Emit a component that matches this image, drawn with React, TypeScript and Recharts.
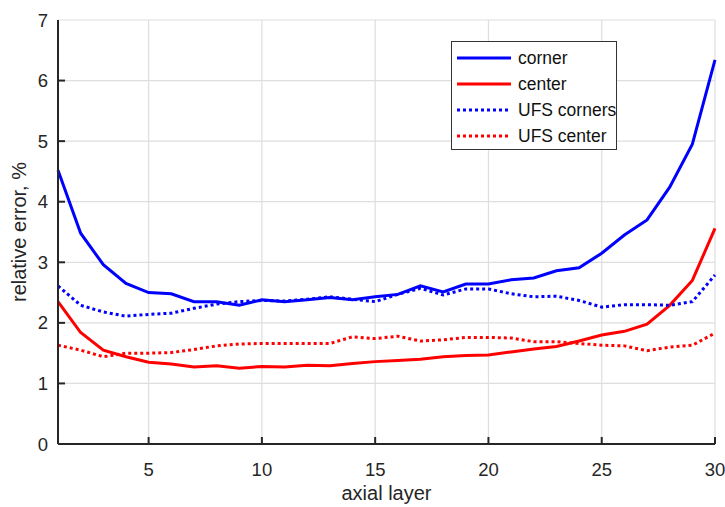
import React from 'react';
import { LineChart, Line, XAxis, YAxis, CartesianGrid, Legend, Label } from 'recharts';

const layers = [1, 2, 3, 4, 5, 6, 7, 8, 9, 10, 11, 12, 13, 14, 15, 16, 17, 18, 19, 20, 21, 22, 23, 24, 25, 26, 27, 28, 29, 30];
const corner = [4.52, 3.48, 2.96, 2.65, 2.5, 2.48, 2.35, 2.35, 2.29, 2.38, 2.35, 2.38, 2.42, 2.38, 2.43, 2.47, 2.61, 2.51, 2.64, 2.64, 2.71, 2.74, 2.86, 2.91, 3.15, 3.45, 3.7, 4.24, 4.95, 6.34];
const center = [2.35, 1.84, 1.55, 1.44, 1.35, 1.32, 1.27, 1.29, 1.25, 1.28, 1.27, 1.3, 1.29, 1.33, 1.36, 1.38, 1.4, 1.44, 1.46, 1.47, 1.52, 1.57, 1.61, 1.7, 1.8, 1.86, 1.98, 2.29, 2.7, 3.56];
const ufsCorners = [2.61, 2.29, 2.18, 2.11, 2.14, 2.16, 2.24, 2.31, 2.35, 2.37, 2.36, 2.39, 2.43, 2.39, 2.35, 2.47, 2.57, 2.46, 2.56, 2.56, 2.48, 2.43, 2.44, 2.37, 2.26, 2.3, 2.3, 2.29, 2.35, 2.79];
const ufsCenter = [1.63, 1.55, 1.44, 1.5, 1.5, 1.51, 1.56, 1.62, 1.65, 1.66, 1.66, 1.66, 1.66, 1.77, 1.74, 1.78, 1.7, 1.72, 1.76, 1.76, 1.75, 1.69, 1.69, 1.66, 1.63, 1.62, 1.54, 1.6, 1.63, 1.83];

const xTicks = [5, 10, 15, 20, 25, 30];
const yTicks = [0, 1, 2, 3, 4, 5, 6, 7];
const seriesNames = ['corner', 'center', 'UFS corners', 'UFS center'];
const xLabel = 'axial layer';
const yLabel = 'relative error, %';

const data = layers.map((l, i) => ({
  layer: l,
  corner: corner[i],
  center: center[i],
  ufsCorners: ufsCorners[i],
  ufsCenter: ufsCenter[i],
}));

const series = [
  { key: 'corner', name: seriesNames[0], color: '#0000ff', dash: undefined as string | undefined },
  { key: 'center', name: seriesNames[1], color: '#ff0000', dash: undefined as string | undefined },
  { key: 'ufsCorners', name: seriesNames[2], color: '#0000ff', dash: '3 3' },
  { key: 'ufsCenter', name: seriesNames[3], color: '#ff0000', dash: '3 3' },
];

const FONT = "'Liberation Sans', Arial, Helvetica, sans-serif";
const AXIS = '#262626';
const TICK = 7;

const BottomTick = (p: any) => (
  <g>
    <line x1={p.x} y1={p.y} x2={p.x} y2={p.y - TICK} stroke={AXIS} strokeWidth={2} />
    <text x={p.x} y={p.y + 32} textAnchor="middle" fontSize={18.5} fill={AXIS} fontFamily={FONT}>
      {p.payload.value}
    </text>
  </g>
);
const TopTick = (p: any) => (
  <line x1={p.x} y1={p.y} x2={p.x} y2={p.y + TICK} stroke={AXIS} strokeWidth={2} />
);
const LeftTick = (p: any) => (
  <g>
    {p.payload.value !== 0 && p.payload.value !== 7 && (
      <line x1={p.x} y1={p.y} x2={p.x + TICK} y2={p.y} stroke={AXIS} strokeWidth={2} />
    )}
    <text x={p.x - 10} y={p.y + 6.5} textAnchor="end" fontSize={18.5} fill={AXIS} fontFamily={FONT}>
      {p.payload.value}
    </text>
  </g>
);
const RightTick = (p: any) => (
  <line x1={p.x} y1={p.y} x2={p.x - TICK} y2={p.y} stroke={AXIS} strokeWidth={2} />
);

const LegendBox = () => (
  <div
    style={{
      boxSizing: 'border-box',
      width: 166,
      height: 109,
      border: '1.5px solid #333',
      background: '#fff',
      position: 'relative',
      fontFamily: FONT,
      fontSize: 17.5,
      color: '#111',
    }}
  >
    {series.map((s, i) => (
      <div key={s.key} style={{ position: 'absolute', left: 0, top: 16 + i * 26 - 11, height: 22, width: 160 }}>
        <svg width={60} height={22} style={{ position: 'absolute', left: 5, top: 0 }}>
          <line x1={0} y1={11} x2={54} y2={11} stroke={s.color} strokeWidth={3} strokeDasharray={s.dash} />
        </svg>
        <span style={{ position: 'absolute', left: 66, top: 1, lineHeight: '20px', whiteSpace: 'nowrap' }}>{s.name}</span>
      </div>
    ))}
  </div>
);

export default function App() {
  return (
    <div style={{ position: 'absolute', left: 0, top: 0, background: '#fff' }}>
      <LineChart width={725} height={507} data={data} margin={{ top: 20, right: 10, left: 0, bottom: 0 }}>
        <CartesianGrid stroke="#dedede" strokeWidth={1.2} />
        <XAxis
          dataKey="layer"
          type="number"
          domain={[1, 30]}
          ticks={xTicks}
          height={63}
          tickSize={0}
          tickMargin={0}
          tickLine={false}
          axisLine={{ stroke: AXIS, strokeWidth: 2 }}
          tick={BottomTick}
          interval={0}
        >
          <Label
            content={(p: any) => {
              const vb = p.viewBox || { x: 58, width: 657 };
              return (
                <text x={vb.x + vb.width / 2} y={500} textAnchor="middle" fontSize={20} fill={AXIS} fontFamily={FONT}>
                  {xLabel}
                </text>
              );
            }}
          />
        </XAxis>
        <XAxis
          xAxisId="top"
          orientation="top"
          dataKey="layer"
          type="number"
          domain={[1, 30]}
          ticks={xTicks}
          height={0}
          tickSize={0}
          tickMargin={0}
          tickLine={false}
          axisLine={{ stroke: AXIS, strokeWidth: 2 }}
          tick={TopTick}
          interval={0}
        />
        <YAxis
          type="number"
          domain={[0, 7]}
          ticks={yTicks}
          width={58}
          tickSize={0}
          tickMargin={0}
          tickLine={false}
          axisLine={{ stroke: AXIS, strokeWidth: 2 }}
          tick={LeftTick}
          interval={0}
        >
          <Label
            content={(p: any) => {
              const vb = p.viewBox || { y: 20, height: 424 };
              return (
                <text
                  transform={`translate(26, ${vb.y + vb.height / 2}) rotate(-90)`}
                  textAnchor="middle"
                  fontSize={20}
                  fill={AXIS}
                  fontFamily={FONT}
                >
                  {yLabel}
                </text>
              );
            }}
          />
        </YAxis>
        <YAxis
          yAxisId="right"
          orientation="right"
          type="number"
          domain={[0, 7]}
          ticks={yTicks.slice(1, -1)}
          width={0}
          tickSize={0}
          tickMargin={0}
          tickLine={false}
          axisLine={{ stroke: AXIS, strokeWidth: 2 }}
          tick={RightTick}
          interval={0}
        />
        {series.map((s) => (
          <Line
            key={s.key}
            dataKey={s.key}
            name={s.name}
            type="linear"
            stroke={s.color}
            strokeWidth={3}
            strokeDasharray={s.dash}
            dot={false}
            activeDot={false}
            isAnimationActive={false}
          />
        ))}
        <Legend
          layout="vertical"
          align="center"
          verticalAlign="middle"
          wrapperStyle={{ left: 451, top: 41, width: 166, height: 109 }}
          content={() => <LegendBox />}
        />
      </LineChart>
    </div>
  );
}
